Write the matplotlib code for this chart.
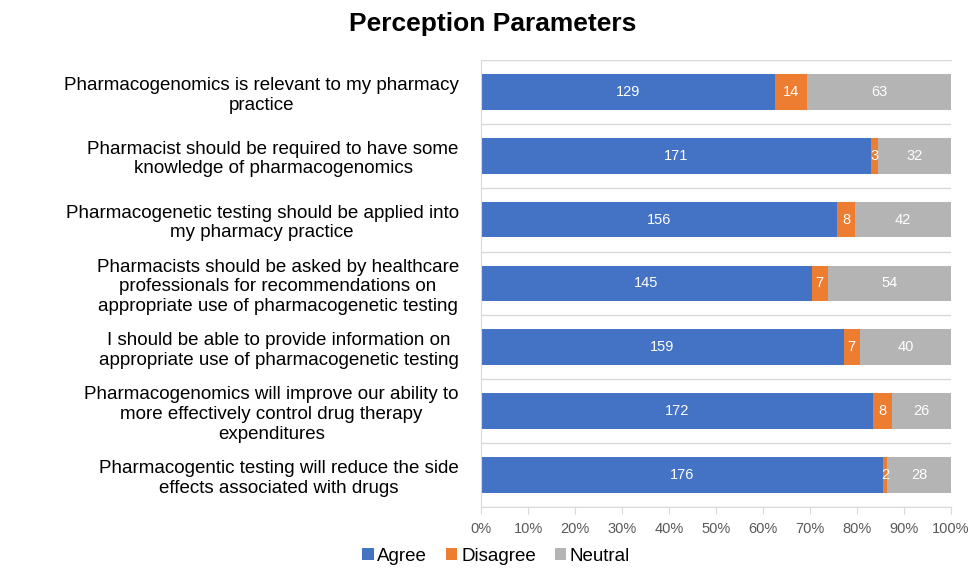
import numpy as np
import matplotlib.pyplot as plt
from matplotlib.ticker import PercentFormatter

plt.rcParams['font.family'] = ['Liberation Sans', 'DejaVu Sans']

# survey statements, top to bottom
statements = [
    "Pharmacogenomics is relevant to my pharmacy\npractice",
    "Pharmacist should be required to have some\nknowledge of pharmacogenomics",
    "Pharmacogenetic testing should be applied into\nmy pharmacy practice",
    "Pharmacists should be asked by healthcare\nprofessionals for recommendations on\nappropriate use of pharmacogenetic testing",
    "I should be able to provide information on\nappropriate use of pharmacogenetic testing",
    "Pharmacogenomics will improve our ability to\nmore effectively control drug therapy\nexpenditures",
    "Pharmacogentic testing will reduce the side\neffects associated with drugs",
]
agree = [129, 171, 156, 145, 159, 172, 176]
disagree = [14, 3, 8, 7, 7, 8, 2]
neutral = [63, 32, 42, 54, 40, 26, 28]

series_names = ["Agree", "Disagree", "Neutral"]
colors = ["#4472C4", "#ED7D31", "#B4B4B4"]

counts = np.array([agree, disagree, neutral], dtype=float)
totals = counts.sum(axis=0)
shares = counts / totals * 100

fig = plt.figure(figsize=(9.69, 5.69), dpi=100)
ax = fig.add_axes([0.4964, 0.109, 0.485, 0.7856])

y = np.arange(len(statements))
left = np.zeros(len(statements))
for name, share, cnt, col in zip(series_names, shares, counts, colors):
    bars = ax.barh(y, share, left=left, height=0.56, color=col, label=name)
    labels = [str(int(c)) for c in cnt]
    ax.bar_label(bars, labels=labels, label_type='center', color='white', fontsize=10.5)
    left += share

ax.set_xlim(0, 100)
ax.set_ylim(len(statements) - 0.5, -0.5)
ax.set_xticks(np.arange(0, 101, 10))
ax.xaxis.set_major_formatter(PercentFormatter(decimals=0))
ax.tick_params(axis='x', colors='#595959', labelsize=10.5, length=5, width=0.8,
               color='#D9D9D9', pad=6)

ax.set_yticks(y)
ax.set_yticklabels(statements, fontsize=13.5, ha='right', multialignment='center',
                   linespacing=1.2)
ax.tick_params(axis='y', length=0, pad=16)

# separators between categories
ax.set_yticks(np.arange(-0.5, len(statements)), minor=True)
ax.tick_params(axis='y', which='minor', length=0)
ax.grid(axis='y', which='minor', color='#D9D9D9', linewidth=1)
ax.set_axisbelow(True)

ax.spines['right'].set_visible(False)
for side in ['top', 'left', 'bottom']:
    ax.spines[side].set_color('#D9D9D9')

fig.text(0.508, 0.958, "Perception Parameters", ha='center', va='center',
         fontsize=19, fontweight='bold')

handles, lbls = ax.get_legend_handles_labels()
fig.legend(handles, lbls, loc='center', bbox_to_anchor=(0.512, 0.022), ncol=3,
           frameon=False, fontsize=13.5, handlelength=0.6, handleheight=0.6,
           handletextpad=0.2, columnspacing=1.0)

fig.savefig("out.png", dpi=100)
